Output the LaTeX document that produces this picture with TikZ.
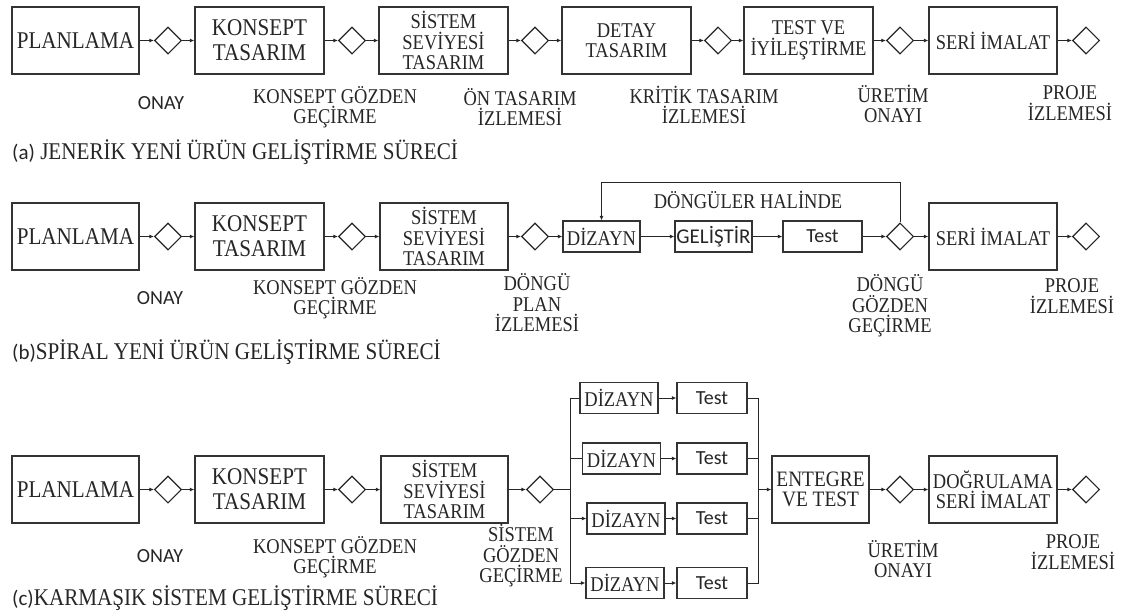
\documentclass[tikz,border=0pt]{standalone}
\usepackage{fontspec}
\setmainfont{Liberation Serif}[FakeStretch=0.88]
\newfontfamily\sansf{Carlito}
\usetikzlibrary{shapes.geometric,arrows.meta}
\newcommand\myfbig{\fontsize{24}{25}\selectfont}
\newcommand\myfmid{\fontsize{21}{20.5}\selectfont}
\newcommand\myflab{\fontsize{21}{20.5}\selectfont}
\newcommand\myfsans{\sansf\fontsize{20}{22}\selectfont}
\newcommand\myfcap{\fontsize{24}{26}\selectfont}
\tikzset{
  box/.style={draw=black!80, line width=1.4pt, minimum height=67pt, inner sep=0pt, align=center, text=black!85},
  sbox/.style={draw=black!80, line width=1.3pt, minimum height=31pt, minimum width=78pt, inner sep=0pt, align=center, text=black!85},
  dia/.style={diamond, draw=black!85, line width=1.1pt, minimum width=27pt, minimum height=27pt, inner sep=0pt},
  arr/.style={-{Latex[length=4.5pt,width=4pt]}, line width=0.9pt, draw=black!85},
  ln/.style={line width=0.9pt, draw=black!85},
  lab/.style={align=center, inner sep=0pt, text=black!85, font=\myflab},
  slab/.style={inner sep=0pt, text=black!85, font=\myfsans},
  captext/.style={anchor=west, inner sep=0pt, text=black!85, font=\myfcap}
}
\begin{document}
\begin{tikzpicture}[x=1pt,y=-1pt]
\useasboundingbox[fill=white] (0,0) rectangle (1131,611);

% ---------------- Row (a) ----------------
\node[box, minimum width=127pt, font=\myfbig] (a1) at (75.5,40.5) {PLANLAMA};
\node[dia] (ad1) at (168,40.5) {};
\node[box, minimum width=129pt, font=\myfbig] (a2) at (259.5,40.5) {KONSEPT\\TASARIM};
\node[dia] (ad2) at (352,40.5) {};
\node[box, minimum width=129pt, font=\myfmid] (a3) at (443.5,40.5) {SİSTEM\\SEVİYESİ\\TASARIM};
\node[dia] (ad3) at (535,40.5) {};
\node[box, minimum width=129pt, font=\myfmid] (a4) at (626.5,40.5) {DETAY\\TASARIM};
\node[dia] (ad4) at (718,40.5) {};
\node[box, minimum width=129pt, font=\myfmid] (a5) at (808.5,40.5) {TEST VE\\İYİLEŞTİRME};
\node[dia] (ad5) at (900,40.5) {};
\node[box, minimum width=128pt, font=\myfmid] (a6) at (993,40.5) {SERİ İMALAT};
\node[dia] (ad6) at (1086,40.5) {};
\draw[arr] (a1) -- (ad1);
\draw[arr] (ad1) -- (a2);
\draw[arr] (a2) -- (ad2);
\draw[arr] (ad2) -- (a3);
\draw[arr] (a3) -- (ad3);
\draw[arr] (ad3) -- (a4);
\draw[arr] (a4) -- (ad4);
\draw[arr] (ad4) -- (a5);
\draw[arr] (a5) -- (ad5);
\draw[arr] (ad5) -- (a6);
\draw[arr] (a6) -- (ad6);

\node[slab] (al1) at (161,103) {ONAY};
\node[lab] (al2) at (335,107) {KONSEPT GÖZDEN\\GEÇİRME};
\node[lab] (al3) at (520,107) {ÖN TASARIM\\İZLEMESİ};
\node[lab] (al4) at (704,105) {KRİTİK TASARIM\\İZLEMESİ};
\node[lab] (al5) at (893,104) {ÜRETİM\\ONAYI};
\node[lab] (al6) at (1070,103) {PROJE\\İZLEMESİ};
\node[captext] (capa) at (12,152) {{\sansf\fontsize{21}{22}\selectfont (a)} JENERİK YENİ ÜRÜN GELİŞTİRME SÜRECİ};

% ---------------- Row (b) ----------------
\node[box, minimum width=127pt, font=\myfbig] (b1) at (75.5,236.5) {PLANLAMA};
\node[dia] (bd1) at (168,236.5) {};
\node[box, minimum width=129pt, font=\myfbig] (b2) at (259.5,236.5) {KONSEPT\\TASARIM};
\node[dia] (bd2) at (352,236.5) {};
\node[box, minimum width=128pt, font=\myfmid] (b3) at (444,236.5) {SİSTEM\\SEVİYESİ\\TASARIM};
\node[dia] (bd3) at (535,236.5) {};
\node[sbox, minimum width=77pt, font=\myfmid] (bz) at (601.5,236.5) {DİZAYN};
\node[sbox, minimum width=77pt, font=\sansf\fontsize{21}{22}\selectfont] (bg) at (713.5,236.5) {GELİŞTİR};
\node[sbox, minimum width=79pt, font=\myfsans] (bt) at (822.5,236.5) {Test};
\node[dia] (bd4) at (900,236.5) {};
\node[box, minimum width=128pt, font=\myfmid] (b4) at (993,236.5) {SERİ İMALAT};
\node[dia] (bd5) at (1086,236.5) {};
\draw[arr] (b1) -- (bd1);
\draw[arr] (bd1) -- (b2);
\draw[arr] (b2) -- (bd2);
\draw[arr] (bd2) -- (b3);
\draw[arr] (b3) -- (bd3);
\draw[arr] (bd3) -- (bz);
\draw[arr] (bz) -- (bg);
\draw[arr] (bg) -- (bt);
\draw[arr] (bt) -- (bd4);
\draw[arr] (bd4) -- (b4);
\draw[arr] (b4) -- (bd5);
\coordinate (lp) at (900,182);
\draw[arr] (bd4.north) -- (lp) -| (bz.north);
\node[lab] (bloop) at (748,200) {DÖNGÜLER HALİNDE};

\node[slab] (bl1) at (160,298) {ONAY};
\node[lab] (bl2) at (335,298) {KONSEPT GÖZDEN\\GEÇİRME};
\node[lab] (bl3) at (537,303) {DÖNGÜ\\PLAN\\İZLEMESİ};
\node[lab] (bl4) at (890,306) {DÖNGÜ\\GÖZDEN\\GEÇİRME};
\node[lab] (bl5) at (1072,296) {PROJE\\İZLEMESİ};
\node[captext] (capb) at (12,352) {{\sansf\fontsize{21}{22}\selectfont (b)}SPİRAL YENİ ÜRÜN GELİŞTİRME SÜRECİ};

% ---------------- Row (c) ----------------
\node[box, minimum width=127pt, font=\myfbig] (c1) at (75.5,489.5) {PLANLAMA};
\node[dia] (cd1) at (168,489.5) {};
\node[box, minimum width=129pt, font=\myfbig] (c2) at (259.5,489.5) {KONSEPT\\TASARIM};
\node[dia] (cd2) at (352,489.5) {};
\node[box, minimum width=127pt, font=\myfmid] (c3) at (444.5,489.5) {SİSTEM\\SEVİYESİ\\TASARIM};
\node[dia] (cd3) at (540,489.5) {};

\node[sbox, font=\myfmid] (cz1) at (619,398) {DİZAYN};
\node[sbox, font=\myfmid] (cz2) at (621.5,458.5) {DİZAYN};
\node[sbox, font=\myfmid] (cz3) at (626,518.5) {DİZAYN};
\node[sbox, font=\myfmid] (cz4) at (625,583) {DİZAYN};
\node[sbox, minimum width=70pt, font=\myfsans] (ct1) at (712,398) {Test};
\node[sbox, minimum width=70pt, font=\myfsans] (ct2) at (712,458.5) {Test};
\node[sbox, minimum width=70pt, font=\myfsans] (ct3) at (712,518.5) {Test};
\node[sbox, minimum width=70pt, font=\myfsans] (ct4) at (712,583) {Test};

\coordinate (bl) at (570,489.5);
\coordinate (br) at (758,489.5);
\draw[ln] (cd3) -- (bl);
\draw[ln] (cz1.west) -| (bl);
\draw[ln] (cz2.west) -| (bl);
\draw[arr] (bl) |- (cz3.west);
\draw[arr] (bl) |- (cz4.west);
\draw[arr] (cz1) -- (ct1);
\draw[arr] (cz2) -- (ct2);
\draw[arr] (cz3) -- (ct3);
\draw[arr] (cz4) -- (ct4);
\draw[ln] (ct1.east) -| (br);
\draw[ln] (ct2.east) -| (br);
\draw[ln] (ct3.east) -| (br);
\draw[ln] (ct4.east) -| (br);

\node[box, minimum width=97pt, font=\fontsize{22}{20.5}\selectfont] (ce) at (820.5,489.5) {ENTEGRE\\VE TEST};
\node[dia] (cd4) at (900,489.5) {};
\node[box, minimum width=128pt, font=\myfmid] (c4) at (993,489.5) {DOĞRULAMA\\SERİ İMALAT};
\node[dia] (cd5) at (1086,489.5) {};
\draw[arr] (c1) -- (cd1);
\draw[arr] (cd1) -- (c2);
\draw[arr] (c2) -- (cd2);
\draw[arr] (cd2) -- (c3);
\draw[arr] (c3) -- (cd3);
\draw[arr] (br) -- (ce);
\draw[arr] (ce) -- (cd4);
\draw[arr] (cd4) -- (c4);
\draw[arr] (c4) -- (cd5);

\node[slab] (cl1) at (160,556) {ONAY};
\node[lab] (cl2) at (335,557) {KONSEPT GÖZDEN\\GEÇİRME};
\node[lab] (cl3) at (521,556) {SİSTEM\\GÖZDEN\\GEÇİRME};
\node[lab] (cl4) at (903,559) {ÜRETİM\\ONAYI};
\node[lab] (cl5) at (1073,552) {PROJE\\İZLEMESİ};
\node[captext] (capc) at (12,598) {{\sansf\fontsize{21}{22}\selectfont (c)}KARMAŞIK SİSTEM GELİŞTİRME SÜRECİ};
\end{tikzpicture}
\end{document}
